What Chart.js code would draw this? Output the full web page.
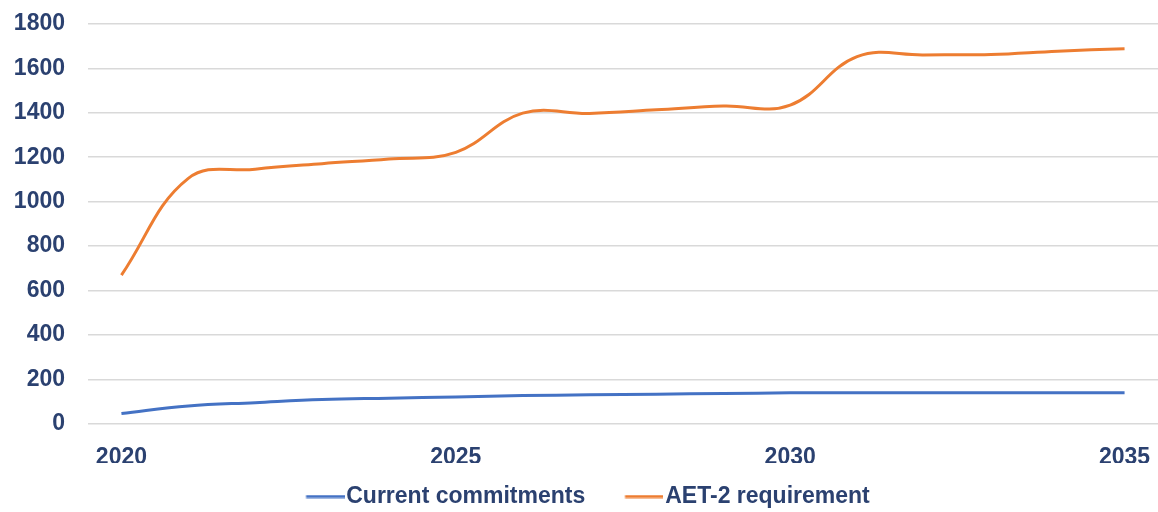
<!DOCTYPE html>
<html>
<head>
<meta charset="utf-8">
<script src="https://cdn.jsdelivr.net/npm/chart.js@4/dist/chart.umd.min.js"></script>
<style>
  html, body { margin: 0; padding: 0; background: #ffffff; }
  #wrap { width: 1158px; height: 512px; position: relative; }
</style>
</head>
<body>
<div id="wrap"><canvas id="chart" width="1158" height="512"></canvas></div>
<script>
// Years on the horizontal axis
const years = [2020, 2021, 2022, 2023, 2024, 2025, 2026, 2027, 2028, 2029, 2030, 2031, 2032, 2033, 2034, 2035];
// Labelled years
const yearTicks = [2020, 2025, 2030, 2035];
// Series values
const currentCommitments = [47, 81, 96, 110, 116, 122, 128, 131, 134, 137, 140, 141, 141, 141, 141, 141];
const aet2Requirement = [670, 1105, 1146, 1171, 1192, 1222, 1398, 1397, 1413, 1430, 1434, 1652, 1660, 1662, 1677, 1688];
// Value axis range
const yMin = 0, yMax = 1800, yStep = 200;

const BLUE = '#4472C4';
const ORANGE = '#ED7D31';
const TEXT = '#2b4170';
const FONT = "'Liberation Sans', Arial, sans-serif";
const FS = 23;

// Legend swatch geometry: an empty lead-in, then a line running up to the label
const LEAD = 18, LINE_LEN = 38;
const BOX_W = LEAD + LINE_LEN + 2 - FS / 2;

function swatch(color) {
  const c = document.createElement('canvas');
  const half = BOX_W / 2 + FS / 2 - 2;     // swatch centre to line end
  c.width = Math.round(half * 2);
  c.height = 4;
  const g = c.getContext('2d');
  g.strokeStyle = color;
  g.lineWidth = 3;
  g.beginPath();
  g.moveTo(half - BOX_W / 2 + LEAD, 2);
  g.lineTo(c.width, 2);
  g.stroke();
  return c;
}

const series = [
  { label: 'Current commitments', data: currentCommitments, color: BLUE },
  { label: 'AET-2 requirement', data: aet2Requirement, color: ORANGE }
];

new Chart(document.getElementById('chart'), {
  type: 'line',
  data: {
    datasets: series.map(s => ({
      label: s.label,
      data: years.map((y, i) => ({ x: y, y: s.data[i] })),
      borderColor: s.color,
      backgroundColor: s.color,
      borderWidth: 3,
      pointRadius: 0,
      tension: 0.4,
      fill: false
    }))
  },
  options: {
    responsive: false,
    animation: false,
    layout: { padding: { top: 0, right: 0, bottom: -6, left: 0 } },
    scales: {
      x: {
        type: 'linear',
        min: 2019.5,
        max: 2035.5,
        afterBuildTicks: s => { s.ticks = yearTicks.map(v => ({ value: v })); },
        afterFit: s => { s.height = 39; },
        grid: { display: false, drawTicks: true, tickLength: 17 },
        border: { display: false },
        ticks: {
          autoSkip: false,
          maxRotation: 0,
          padding: 3,
          color: TEXT,
          font: { family: FONT, size: FS, weight: 'bold' },
          callback: v => String(v)
        }
      },
      y: {
        min: yMin,
        max: yMax,
        afterFit: s => { s.width = 88; },
        grid: { color: '#d9d9d9', lineWidth: 1.5, drawTicks: true, tickLength: 13, tickColor: 'rgba(0,0,0,0)' },
        border: { display: false },
        ticks: {
          stepSize: yStep,
          padding: 10,
          color: TEXT,
          font: { family: FONT, size: FS, weight: 'bold' },
          callback: v => String(v)
        }
      }
    },
    plugins: {
      tooltip: { enabled: false },
      legend: {
        position: 'bottom',
        labels: {
          usePointStyle: true,
          pointStyleWidth: BOX_W,
          padding: 22,
          color: TEXT,
          font: { family: FONT, size: FS, weight: 'bold' },
          generateLabels: chart => chart.data.datasets.map((d, i) => ({
            text: d.label,
            pointStyle: swatch(d.borderColor),
            fillStyle: d.borderColor,
            strokeStyle: d.borderColor,
            lineWidth: 0,
            fontColor: TEXT,
            hidden: false,
            datasetIndex: i
          }))
        }
      }
    }
  }
});
</script>
</body>
</html>
